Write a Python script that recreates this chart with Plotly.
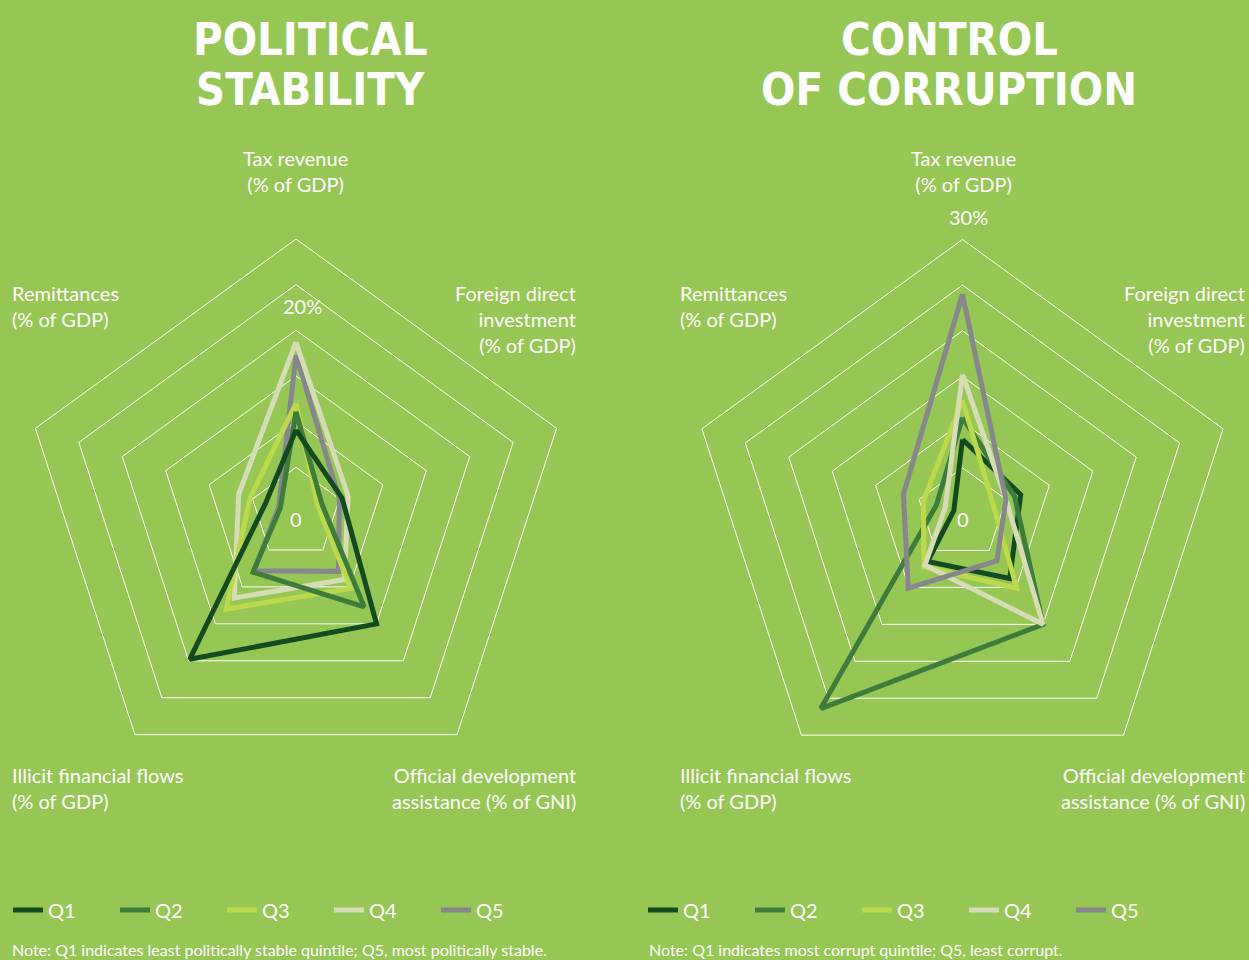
import plotly.graph_objects as go

W, H = 1249, 960

categories = ["Tax revenue", "Foreign direct investment", "Official development assistance",
              "Illicit financial flows", "Remittances"]
quintiles = ["Q1", "Q2", "Q3", "Q4", "Q5"]
colors = ["#144a1f", "#3e7c3b", "#bcd84b", "#d6ddb6", "#86868c"]

# Political stability (values in % ; order as categories)
ps_q1 = [9.1, 5.3, 15.0, 19.8, 3.5]
ps_q2 = [11.1, 3.0, 12.7, 8.0, 1.8]
ps_q3 = [12.0, 2.5, 10.2, 13.0, 5.3]
ps_q4 = [18.7, 6.0, 9.0, 11.5, 6.6]
ps_q5 = [17.3, 5.0, 7.9, 7.8, 2.0]

# Control of corruption
cc_q1 = [8.1, 6.7, 8.8, 6.5, 1.0]
cc_q2 = [10.5, 6.0, 15.0, 26.4, 3.0]
cc_q3 = [12.4, 3.5, 10.1, 7.2, 4.5]
cc_q4 = [15.2, 5.0, 15.0, 7.0, 2.0]
cc_q5 = [24.0, 5.0, 6.4, 10.1, 6.8]

ps_series = [ps_q1, ps_q2, ps_q3, ps_q4, ps_q5]
cc_series = [cc_q1, cc_q2, cc_q3, cc_q4, cc_q5]

radial_max = 30
grid_vals = [5, 10, 15, 20, 25]

BG = "#96c654"
FONT = "Lato"
TITLE_FONT = "DejaVu Sans Condensed, Roboto"


def px(x):
    return x / W


def py(y):
    return 1 - y / H


fig = go.Figure()


def closed(v):
    return list(v) + [v[0]]


# left chart: Q1 drawn on top
for i in reversed(range(5)):
    fig.add_trace(go.Scatterpolar(
        r=closed(ps_series[i]), theta=closed(categories), mode="lines",
        line=dict(color=colors[i], width=5), name=quintiles[i],
        subplot="polar", legend="legend", legendrank=i + 1, hoverinfo="skip"))

for i in range(5):
    fig.add_trace(go.Scatterpolar(
        r=closed(cc_series[i]), theta=closed(categories), mode="lines",
        line=dict(color=colors[i], width=5), name=quintiles[i],
        subplot="polar2", legend="legend2", legendrank=i + 1, hoverinfo="skip"))

R = 274


def polar_cfg(cx, cy):
    return dict(
        domain=dict(x=[px(cx - R), px(cx + R)], y=[py(cy + R), py(cy - R)]),
        bgcolor="rgba(0,0,0,0)",
        gridshape="linear",
        radialaxis=dict(range=[0, radial_max], tickvals=grid_vals, showticklabels=False,
                        ticks="", showline=False, gridcolor="white", gridwidth=1),
        angularaxis=dict(rotation=90, direction="clockwise", showgrid=False,
                         showticklabels=False, ticks="", showline=True,
                         linecolor="white", linewidth=1,
                         categoryorder="array", categoryarray=categories),
    )


legend_common = dict(orientation="h", font=dict(family=FONT, size=20, color="white"),
                     bgcolor="rgba(0,0,0,0)", entrywidth=62, entrywidthmode="pixels",
                     yanchor="middle", xanchor="left", traceorder="normal")

fig.update_layout(
    width=W, height=H,
    margin=dict(l=0, r=0, t=0, b=0),
    paper_bgcolor=BG, plot_bgcolor=BG,
    polar=polar_cfg(296, 513),
    polar2=polar_cfg(962.5, 513.5),
    legend=dict(x=px(8), y=py(910), **legend_common),
    legend2=dict(x=px(643), y=py(910), **legend_common),
    showlegend=True,
)

ann = []


def text(x, y, s, size=20, xanchor="center", align="center", family=FONT, weight=None):
    f = dict(family=family, size=size, color="white")
    if weight is not None:
        f["weight"] = weight
    ann.append(dict(x=px(x), y=py(y), xref="paper", yref="paper", text=s, showarrow=False,
                    xanchor=xanchor, yanchor="middle", align=align, font=f))


# titles
text(310, 39, "POLITICAL", size=45, family=TITLE_FONT, weight=900)
text(310, 89, "STABILITY", size=45, family=TITLE_FONT, weight=900)
text(949, 39, "CONTROL", size=45, family=TITLE_FONT, weight=900)
text(949, 89, "OF CORRUPTION", size=45, family=TITLE_FONT, weight=900)

# axis labels
for ox, cx in [(0, 295), (668, 963)]:
    right = 578 if ox == 0 else 1247
    text(cx, 171, "Tax revenue<br>(% of GDP)")
    text(10 + ox, 306, "Remittances<br>(% of GDP)", xanchor="left", align="left")
    text(right, 319.5, "Foreign direct<br>investment<br>(% of GDP)", xanchor="right", align="right")
    text(10 + ox, 787.5, "Illicit financial flows<br>(% of GDP)", xanchor="left", align="left")
    text(right, 787.5, "Official development<br>assistance (% of GNI)", xanchor="right", align="right")

# radial value labels
text(296, 519, "0")
text(302, 306, "20%")
text(963, 519, "0")
text(968, 217, "30%")

# notes
text(10, 949, "Note: Q1 indicates least politically stable quintile; Q5, most politically stable.",
     size=16, xanchor="left", align="left")
text(647, 949, "Note: Q1 indicates most corrupt quintile; Q5, least corrupt.",
     size=16, xanchor="left", align="left")

fig.update_layout(annotations=ann)

fig.write_html("out.html", config={"displayModeBar": False},
               post_script="document.body.style.margin='0';")
